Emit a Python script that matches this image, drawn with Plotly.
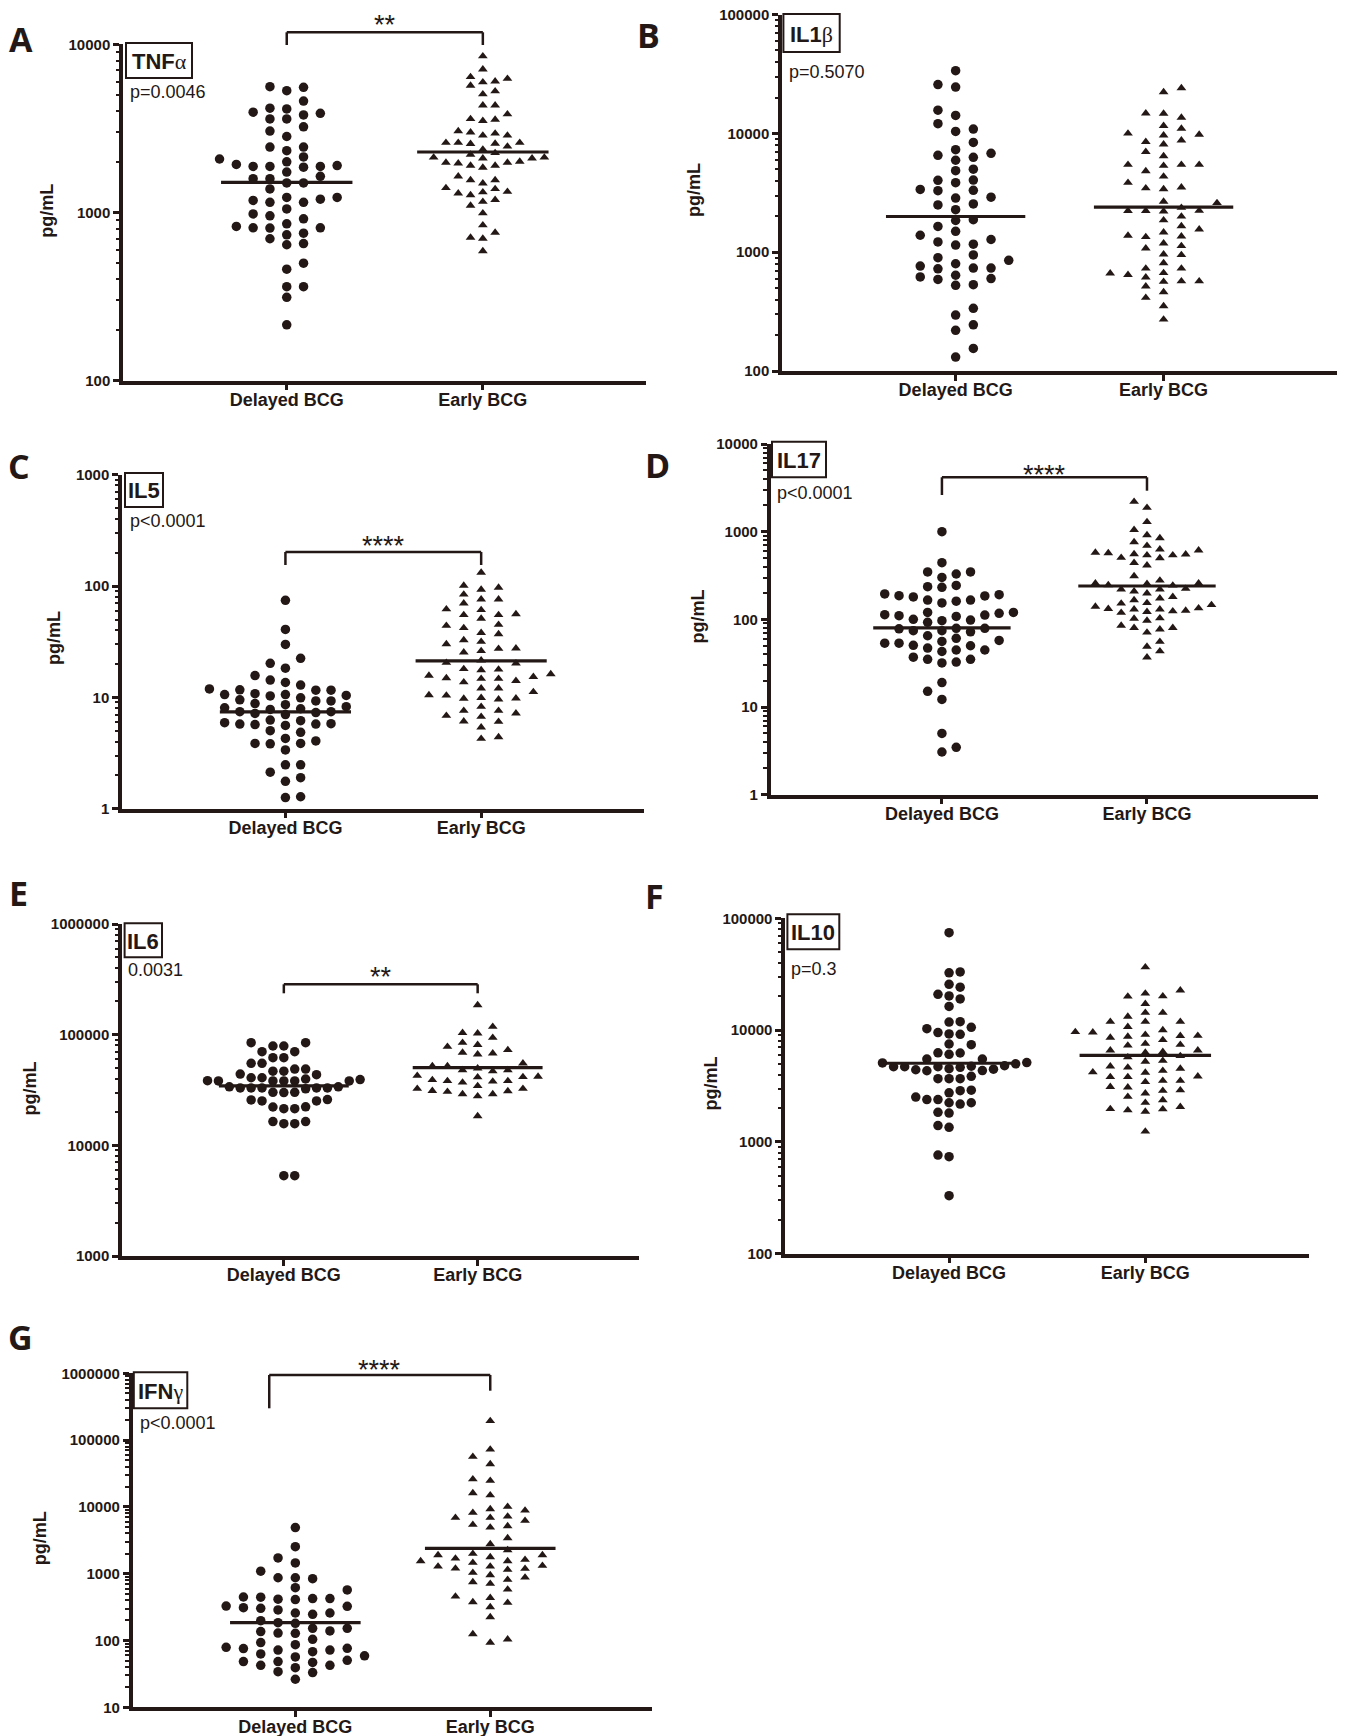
import numpy as np
import plotly.graph_objects as go

W, H = 1347, 1736
INK = "#231815"

# ---------------- data (pg/mL) ----------------
categories = ["Delayed BCG", "Early BCG"]

tnf_delayed = [5600, 5300, 5550, 4600, 4130, 4170, 3950, 3890, 3800, 3600, 3600, 3230, 3050, 2830, 2450, 2450,
               2330, 2140, 2080, 2000, 1930, 1900, 1880, 1880, 1880, 1860, 1740, 1640, 1590, 1590, 1500, 1500,
               1380, 1230, 1230, 1200, 1180, 1150, 1150, 1050, 980, 955, 917, 857, 826, 811, 811, 808, 754, 737,
               698, 654, 643, 500, 460, 362, 362, 313, 215]
tnf_early = [8500, 7100, 6400, 6250, 6030, 5950, 5680, 5260, 5050, 4340, 4340, 3840, 3600, 3570, 3510, 3050, 3000,
             2950, 2870, 2870, 2600, 2600, 2600, 2570, 2560, 2470, 2370, 2260, 2210, 2125, 2125, 2100, 2100, 2010,
             1980, 1980, 1960, 1900, 1900, 1850, 1640, 1560, 1560, 1490, 1400, 1380, 1330, 1320, 1300, 1270, 1190,
             1160, 1100, 990, 840, 760, 710, 700, 590]
tnf_center = [1510, 2290]

il1b_delayed = [33800, 25800, 24600, 15700, 14200, 12100, 10900, 10400, 8400, 7300, 6800, 6550, 6300, 5950, 5000,
                4860, 4050, 4030, 3850, 3380, 3320, 3300, 2910, 2860, 2550, 2500, 2280, 1880, 1850, 1650, 1500,
                1390, 1280, 1220, 1170, 1150, 950, 900, 855, 800, 765, 735, 735, 725, 640, 620, 600, 590, 533, 526,
                337, 296, 245, 220, 155, 131]
il1b_early = [24100, 22300, 14800, 14700, 13600, 11600, 11000, 10000, 9800, 9650, 8750, 8500, 8100, 7000, 6450,
              5460, 5460, 5460, 5350, 4830, 4350, 3850, 3520, 3460, 3400, 2670, 2600, 2370, 2240, 2230, 2230, 2210,
              2000, 1860, 1660, 1560, 1470, 1380, 1360, 1345, 1190, 1130, 1080, 960, 950, 810, 730, 730, 670, 665,
              645, 615, 570, 570, 565, 516, 462, 414, 352, 272]
il1b_center = [2000, 2400]

il5_delayed = [74.4, 40.8, 29.9, 22.4, 20.2, 18.3, 15.7, 14.3, 13.6, 12.9, 11.9, 11.7, 11.6, 11.6, 10.8, 10.6, 10.6,
               10.4, 10.3, 9.9, 9.5, 9.3, 9.3, 8.8, 8.6, 8.25, 8.05, 7.9, 7.8, 7.43, 7.43, 7.3, 7.18, 7.0, 6.25,
               6.17, 5.92, 5.8, 5.75, 5.75, 5.7, 5.6, 5.02, 4.85, 4.28, 4.06, 3.86, 3.86, 3.83, 3.37, 2.48, 2.48,
               2.13, 1.9, 1.76, 1.28, 1.26]
il5_early = [132, 101, 97, 93, 84, 76, 76, 70, 62, 61, 56, 55, 55, 51, 45, 44, 42, 38, 37, 32.7, 31.6, 30.1, 27.6,
             27.4, 26.1, 25.4, 21.5, 20.5, 20.2, 18, 17.8, 17.6, 16.2, 15.7, 15.3, 14.9, 14.7, 14.7, 14.1, 13.7,
             12.05, 12.05, 11.2, 10.5, 10.4, 9.9, 9.8, 9.75, 9.6, 8.25, 7.6, 7.6, 7.2, 6.84, 6.7, 6.1, 6.04, 5.38,
             4.4, 4.26]
il5_center = [7.4, 21.3]

il17_delayed = [1000, 443, 347, 347, 329, 301, 244, 236, 232, 195, 191, 186, 185, 180, 166, 166, 161, 154, 120,
                120, 117, 113, 112, 110, 108, 100, 98, 96.5, 92.4, 79, 79, 78, 74.3, 74.3, 72, 65, 60.7, 57.5, 56,
                53.5, 53.5, 50.5, 50, 47, 44.7, 44.7, 43, 37, 35, 35, 32.6, 31.8, 19, 15.1, 12.2, 5.0, 3.47, 3.07]
il17_early = [2200, 1880, 1290, 1050, 916, 847, 762, 692, 630, 612, 578, 570, 555, 551, 540, 540, 505, 500, 442,
              413, 312, 278, 258, 258, 254, 246, 244, 224, 220, 220, 209, 198, 181, 174, 166, 154, 152, 146, 140,
              134, 132, 130, 130, 126, 124, 122, 119, 103, 102, 97, 85, 80, 80, 77, 71, 55.6, 49, 43.3, 36.9]
il17_center = [80, 240]

il6_delayed = [84700, 84700, 79000, 79000, 70200, 70200, 62000, 62000, 55100, 55100, 48900, 48900, 46800, 46800,
               44000, 43500, 40800, 40800, 39750, 39300, 38400, 38150, 38150, 38150, 38150, 38150, 33800, 33800,
               33000, 33000, 33000, 33000, 33000, 32400, 30100, 30100, 30000, 25900, 25700, 25200, 25200, 22300,
               22200, 21450, 21450, 16400, 16400, 15700, 15700, 5320, 5320]
il6_early = [185000, 118000, 104000, 103000, 94000, 84700, 80900, 77900, 72700, 69000, 67800, 66500, 55100, 52100,
             52100, 49600, 47900, 47900, 46800, 42600, 41800, 41500, 41300, 39000, 38200, 38200, 37800, 37000,
             34400, 32500, 32500, 31100, 30900, 30500, 29100, 29100, 27800, 18400]
il6_center = [34400, 50300]

il10_delayed = [74400, 33100, 32500, 25700, 24200, 20900, 20200, 19000, 16300, 11900, 11800, 10600, 10300, 9500,
                9250, 9170, 7510, 7410, 6260, 6240, 6070, 5510, 5510, 5120, 5090, 4990, 4800, 4750, 4700, 4700,
                4700, 4650, 4520, 4470, 4420, 4350, 4330, 3860, 3680, 3680, 3680, 2900, 2870, 2750, 2520, 2390,
                2390, 2240, 2240, 2180, 1840, 1810, 1400, 1350, 763, 737, 330]
il10_early = [36500, 22700, 21300, 20100, 20000, 17200, 14300, 14300, 13200, 11900, 11900, 11900, 10700, 10000,
              9620, 9550, 9100, 8920, 8900, 8750, 8570, 8160, 7560, 7400, 7300, 6590, 6590, 6400, 6290, 5870, 5720,
              5330, 5230, 4740, 4630, 4530, 4340, 4200, 4170, 3860, 3810, 3810, 3530, 3530, 3440, 3110, 3080, 2900,
              2870, 2720, 2540, 2370, 2240, 2060, 1970, 1960, 1920, 1870, 1240]
il10_center = [5050, 5950]

ifng_delayed = [4900, 2540, 1720, 1450, 1090, 870, 870, 843, 618, 571, 448, 445, 424, 424, 415, 410, 328, 325, 310,
                303, 287, 258, 258, 247, 198, 185, 181, 152, 152, 139, 136, 129, 128, 104, 93, 86.7, 79, 76.4, 75.6,
                72, 72, 68, 63, 59, 56.7, 50.5, 48.3, 48.3, 47, 42.5, 42.5, 39.2, 34.2, 33.1, 26.3]
ifng_early = [193400, 72600, 56400, 43700, 26000, 24650, 16100, 15000, 10070, 9270, 8870, 8180, 7210, 6890, 6890,
              6210, 5410, 5160, 4930, 3410, 2775, 2255, 1990, 1900, 1900, 1775, 1695, 1620, 1545, 1545, 1462, 1318,
              1285, 1285, 1200, 1188, 1148, 1035, 953, 881, 813, 748, 708, 582, 457, 436, 376, 368, 316, 224, 125,
              104, 93]
ifng_center = [185, 2400]

panel_letters = ["A", "B", "C", "D", "E", "F", "G"]
GREEK = "<span style='font-family:Liberation Serif;font-weight:normal'>{}</span>"
cytokine_names = ["TNF" + GREEK.format("α"), "IL1" + GREEK.format("β"), "IL5", "IL17", "IL6", "IL10",
                  "IFN" + GREEK.format("γ")]
p_labels = ["p=0.0046", "p=0.5070", "p<0.0001", "p<0.0001", "0.0031", "p=0.3", "p<0.0001"]
stars = ["**", None, "****", "****", "**", None, "****"]
delayed_sets = [tnf_delayed, il1b_delayed, il5_delayed, il17_delayed, il6_delayed, il10_delayed, ifng_delayed]
early_sets = [tnf_early, il1b_early, il5_early, il17_early, il6_early, il10_early, ifng_early]
center_sets = [tnf_center, il1b_center, il5_center, il17_center, il6_center, il10_center, ifng_center]
y_log_ranges = [(2, 4), (2, 5), (0, 3), (0, 4), (3, 6), (2, 5), (1, 6)]

# ---------------- layout geometry (page pixels) ----------------
geom = [
    dict(x0=123, x1=646, y0=44.3, y1=380.7, sc=16.8, st=12.3, box=(126, 43, 192, 78), pt=(128, 92),
         title=(47, 210.7), letter=(21, 39), br=dict(y=32.3, yl=45, yr=45, xl=1, xr=2, sy=18)),
    dict(x0=782, x1=1336.6, y0=14.7, y1=371, sc=17.7, st=17.8, box=(783.4, 14, 839.7, 52), pt=(786.5, 71.7),
         title=(694, 190), letter=(648, 35), br=None),
    dict(x0=122, x1=644, y0=474.7, y1=808.7, sc=15.2, st=17.4, box=(125, 473, 163, 507), pt=(127.5, 521),
         title=(54.7, 638.3), letter=(19, 466), br=dict(y=552, yl=565, yr=565, xl=1, xr=2, sy=538.7)),
    dict(x0=770.7, x1=1317.6, y0=444, y1=794.7, sc=14.3, st=12.9, box=(772, 441.7, 826, 477.3), pt=(775, 492.7),
         title=(697.7, 616.7), letter=(657, 465), br=dict(y=477.3, yl=495, yr=490.7, xl=1, xr=2, sy=468)),
    dict(x0=122, x1=638.9, y0=924, y1=1256, sc=10.9, st=15.1, box=(124.6, 923.3, 162, 957.3), pt=(126, 970),
         title=(30.3, 1088.3), letter=(18, 893), br=dict(y=984.3, yl=993.3, yr=993.3, xl=1, xr=2, sy=970)),
    dict(x0=785.2, x1=1308.6, y0=918.3, y1=1253.7, sc=11.1, st=17.5, box=(787.4, 914.3, 839.3, 949.3),
         pt=(788.8, 969.3), title=(711.2, 1083.3), letter=(654, 895.5), br=None),
    dict(x0=132.6, x1=652.4, y0=1373.3, y1=1707.3, sc=17.3, st=17.4, box=(133.8, 1372.3, 187.3, 1408.3),
         pt=(138, 1422.7), title=(40, 1538.3), letter=(20, 1337),
         br=dict(y=1375, yl=1408.3, yr=1390.7, xl=0.866, xr=2, sy=1363.3)),
]
XR = (0.165, 2.832)
HALF = 0.335


def px(xp):
    return xp / W


def py(yp):
    return 1 - yp / H


def swarm(values, ylog, plot_h, unit_px, step_px, thr_px, center):
    lv = np.log10(np.asarray(values, dtype=float))
    ypix = (lv - ylog[0]) / (ylog[1] - ylog[0]) * plot_h
    order = np.argsort(ypix, kind="stable")
    cols = {}
    xs = np.zeros(len(values))
    for i, idx in enumerate(order):
        y = ypix[idx]
        cands = [0]
        for k in range(1, 60):
            cands += [-k, k] if i % 2 == 0 else [k, -k]
        for c in cands:
            if all(abs(y - yy) >= thr_px for yy in cols.get(c, [])):
                cols.setdefault(c, []).append(y)
                xs[idx] = center + c * step_px / unit_px
                break
    return xs


fig = go.Figure()
layout = dict(autosize=True, margin=dict(l=0, r=0, t=0, b=0, autoexpand=False), paper_bgcolor="white",
              plot_bgcolor="white", showlegend=False, shapes=[], annotations=[])
TICKFONT = "Liberation Sans, Arial"

for i in range(7):
    g = geom[i]
    n = i + 1
    xa = "x" if n == 1 else f"x{n}"
    ya = "y" if n == 1 else f"y{n}"
    ylog = y_log_ranges[i]
    unit_px = (g["x1"] - g["x0"]) / (XR[1] - XR[0])
    plot_h = g["y1"] - g["y0"]

    xd = swarm(delayed_sets[i], ylog, plot_h, unit_px, g["sc"], 9.8, 1)
    xe = swarm(early_sets[i], ylog, plot_h, unit_px, g["st"], 8.6, 2)
    fig.add_trace(go.Scatter(x=xd, y=delayed_sets[i], mode="markers", xaxis=xa, yaxis=ya,
                             marker=dict(symbol="circle", size=9.5, color=INK, line=dict(width=0)),
                             hoverinfo="y"))
    fig.add_trace(go.Scatter(x=xe, y=early_sets[i], mode="markers", xaxis=xa, yaxis=ya,
                             marker=dict(symbol="triangle-up", size=8.5, color=INK, line=dict(width=0)),
                             hoverinfo="y"))
    for k, cx in enumerate([1, 2]):
        fig.add_trace(go.Scatter(x=[cx - HALF, cx + HALF], y=[center_sets[i][k]] * 2, mode="lines",
                                 xaxis=xa, yaxis=ya, line=dict(color=INK, width=3.2), hoverinfo="skip"))

    decades = [10 ** e for e in range(ylog[0], ylog[1] + 1)]
    minors = [m * 10 ** e for e in range(ylog[0], ylog[1]) for m in range(2, 10)]
    axkey = "xaxis" if n == 1 else f"xaxis{n}"
    aykey = "yaxis" if n == 1 else f"yaxis{n}"
    layout[axkey] = dict(domain=[px(g["x0"]), px(g["x1"])], range=list(XR), anchor=ya,
                         tickmode="array", tickvals=[1, 2], ticktext=categories,
                         showline=True, linewidth=3.5, linecolor=INK, ticks="outside", ticklen=6,
                         tickwidth=3, tickcolor=INK, showgrid=False, zeroline=False, ticklabelstandoff=-6,
                         tickfont=dict(family=TICKFONT, size=18, color=INK, weight="bold"))
    layout[aykey] = dict(domain=[py(g["y1"]), py(g["y0"])], type="log", range=list(ylog), anchor=xa,
                         tickmode="array", tickvals=decades, ticktext=[str(d) for d in decades],
                         showline=True, linewidth=3.5, linecolor=INK, ticks="outside", ticklen=6,
                         tickwidth=3, tickcolor=INK, showgrid=False, zeroline=False,
                         minor=dict(tickmode="array", tickvals=minors, ticks="outside", ticklen=3.5,
                                    tickwidth=2, tickcolor=INK, showgrid=False),
                         tickfont=dict(family=TICKFONT, size=15, color=INK, weight="bold"))

    # y title
    layout["annotations"].append(dict(text="pg/mL", xref="paper", yref="paper", x=px(g["title"][0]),
                                      y=py(g["title"][1]), textangle=-90, showarrow=False,
                                      xanchor="center", yanchor="middle",
                                      font=dict(family=TICKFONT, size=18, color=INK, weight="bold")))
    # panel letter
    layout["annotations"].append(dict(text=panel_letters[i], xref="paper", yref="paper",
                                      x=px(g["letter"][0]), y=py(g["letter"][1]), showarrow=False,
                                      xanchor="center", yanchor="middle",
                                      font=dict(family="Open Sans", size=34, color=INK, weight="bold")))
    # cytokine box
    bx0, by0, bx1, by1 = g["box"]
    layout["shapes"].append(dict(type="rect", xref="paper", yref="paper", x0=px(bx0), x1=px(bx1),
                                 y0=py(by1), y1=py(by0), line=dict(color=INK, width=2), fillcolor="white",
                                 layer="above"))
    layout["annotations"].append(dict(text=cytokine_names[i], xref="paper", yref="paper",
                                      x=px((bx0 + bx1) / 2), y=py((by0 + by1) / 2 + 1), showarrow=False,
                                      xanchor="center", yanchor="middle",
                                      font=dict(family=TICKFONT, size=22, color=INK, weight="bold")))
    # p-value
    layout["annotations"].append(dict(text=p_labels[i], xref="paper", yref="paper", x=px(g["pt"][0]),
                                      y=py(g["pt"][1]), showarrow=False, xanchor="left", yanchor="middle",
                                      font=dict(family=TICKFONT, size=18, color=INK)))
    # significance bracket
    br = g["br"]
    if br is not None:
        for (xa0, ya0, xa1, ya1) in [(br["xl"], br["yl"], br["xl"], br["y"]),
                                     (br["xl"], br["y"], br["xr"], br["y"]),
                                     (br["xr"], br["y"], br["xr"], br["yr"])]:
            layout["shapes"].append(dict(type="line", xref=xa, yref="paper", x0=xa0, x1=xa1,
                                         y0=py(ya0), y1=py(ya1), line=dict(color=INK, width=2.5)))
        layout["annotations"].append(dict(text=stars[i], xref=xa, yref="paper",
                                          x=(br["xl"] + br["xr"]) / 2, y=py(br["sy"] + 7), showarrow=False,
                                          xanchor="center", yanchor="middle",
                                          font=dict(family=TICKFONT, size=27, color=INK)))

fig.update_layout(**layout)
# the plot div is pinned to the page's top-left corner at exactly the window size
fig.write_html("out.html", config={"displayModeBar": False},
               default_width=f"{W}px",
               default_height=f"{H}px; position:absolute; top:0px; left:0px")
